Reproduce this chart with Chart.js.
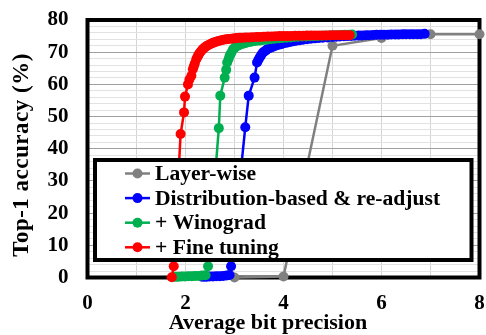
<!DOCTYPE html>
<html>
<head>
<meta charset="utf-8">
<script src="https://cdn.jsdelivr.net/npm/chart.js@4"></script>
<style>
    body { margin: 0; background: #fff; }
</style>
</head>
<body>
<canvas id="accuracy-chart" width="486" height="335"></canvas>
<script>
    // values
    const seriesLabels = ["Layer-wise", "Distribution-based & re-adjust", "+ Winograd", "+ Fine tuning"];
    const seriesColors = ["#808080", "#0000ff", "#00b050", "#ff0000"];

    const layerBits = [3, 4, 5, 6, 7, 8];
    const layerAcc = [0, 0.3, 72, 74.4, 75.6, 75.6];

    const distBits = [2.35, 2.42, 2.49, 2.56, 2.63, 2.70, 2.77, 2.84, 2.90, 2.93,
        3.22, 3.29, 3.41, 3.46, 3.49, 3.52, 3.55, 3.58, 3.61, 3.64,
        3.67, 3.71, 3.75, 3.80, 3.85, 3.90, 3.95, 3.99, 4.05, 4.10,
        4.15, 4.20, 4.26, 4.33, 4.40, 4.48, 4.56, 4.64, 4.72, 4.80,
        4.90, 5.00, 5.08, 5.15, 5.23, 5.30, 5.38, 5.45, 5.53, 5.60,
        5.68, 5.75, 5.83, 5.90, 5.98, 6.05, 6.13, 6.20, 6.28, 6.35,
        6.43, 6.50, 6.58, 6.65, 6.73, 6.80, 6.88];
    const distAcc = [0.2, 0.2, 0.3, 0.3, 0.4, 0.4, 0.5, 0.6, 0.8, 3.5,
        46.7, 56.5, 62.1, 66.8, 67.7, 68.5, 69.2, 69.9, 70.2, 70.5,
        70.9, 71.2, 71.5, 71.8, 72.1, 72.3, 72.5, 72.7, 72.9, 73.1,
        73.25, 73.4, 73.55, 73.7, 73.85, 74.0, 74.15, 74.3, 74.4, 74.5,
        74.6, 74.7, 74.8, 74.9, 74.95, 75.0, 75.05, 75.1, 75.15, 75.2,
        75.25, 75.3, 75.35, 75.4, 75.4, 75.4, 75.45, 75.5, 75.5, 75.5,
        75.55, 75.6, 75.6, 75.6, 75.6, 75.6, 75.7];

    const winoBits = [1.78, 1.85, 1.92, 1.99, 2.06, 2.13, 2.20, 2.27, 2.34, 2.41, 2.46,
        2.68, 2.71, 2.80, 2.83, 2.85, 2.88, 2.90, 2.92, 2.94, 2.97,
        3.00, 3.02, 3.05, 3.08, 3.12, 3.17, 3.21, 3.26, 3.31, 3.36,
        3.43, 3.51, 3.58, 3.66, 3.74, 3.82, 3.90, 3.98, 4.06, 4.14,
        4.22, 4.30, 4.38, 4.46, 4.54, 4.62, 4.70, 4.78, 4.86, 4.94,
        5.02, 5.10, 5.18, 5.25, 5.33, 5.40];
    const winoAcc = [0.2, 0.2, 0.3, 0.3, 0.4, 0.4, 0.5, 0.5, 0.6, 0.7, 3.5,
        46.4, 56.5, 62.1, 64.5, 66.8, 67.9, 68.8, 69.4, 70.0, 70.9,
        71.3, 71.6, 71.9, 72.1, 72.4, 72.6, 72.8, 73.0, 73.15, 73.3,
        73.45, 73.6, 73.75, 73.9, 74.05, 74.2, 74.3, 74.4, 74.5, 74.6,
        74.7, 74.8, 74.85, 74.9, 74.95, 75.0, 75.05, 75.1, 75.15, 75.2,
        75.25, 75.3, 75.35, 75.4, 75.45, 75.5];

    const tuneBits = [1.72, 1.76, 1.90, 1.97, 1.99, 2.05, 2.08, 2.12,
        2.15, 2.17, 2.19, 2.22, 2.24, 2.26, 2.28, 2.30, 2.33, 2.35,
        2.38, 2.41, 2.44, 2.48, 2.52, 2.56, 2.60, 2.64, 2.68, 2.73,
        2.78, 2.83, 2.88, 2.94, 3.00, 3.05, 3.11, 3.17, 3.23, 3.30,
        3.37, 3.45, 3.52, 3.60, 3.68, 3.76, 3.84, 3.92, 4.00, 4.08,
        4.16, 4.24, 4.32, 4.40, 4.48, 4.56, 4.64, 4.72, 4.80, 4.88,
        4.96, 5.04, 5.12, 5.20, 5.28, 5.35];
    const tuneAcc = [0.1, 3.5, 44.6, 51.3, 56.2, 60.0, 61.5, 62.7,
        64.7, 65.6, 66.5, 67.8, 68.4, 69.0, 69.5, 70.0, 70.5, 70.9,
        71.3, 71.7, 72.0, 72.3, 72.6, 72.9, 73.1, 73.3, 73.5, 73.7,
        73.85, 74.0, 74.1, 74.2, 74.3, 74.4, 74.45, 74.5, 74.55, 74.6,
        74.65, 74.7, 74.75, 74.8, 74.85, 74.9, 74.95, 75.0, 75.0, 75.0,
        75.05, 75.1, 75.1, 75.1, 75.15, 75.2, 75.2, 75.2, 75.2, 75.2,
        75.25, 75.3, 75.3, 75.3, 75.3, 75.3];

    const xTickLabels = ["0", "2", "4", "6", "8"];
    const yTickLabels = ["0", "10", "20", "30", "40", "50", "60", "70", "80"];

    const serif = '"Liberation Serif", "Times New Roman", serif';

    function toPoints(xs, ys) {
        return xs.map(function (x, i) { return { x: x, y: ys[i] }; });
    }

    function MakeDataset(i, xs, ys, order) {
        return {
            label: seriesLabels[i],
            data: toPoints(xs, ys),
            showLine: true,
            borderColor: seriesColors[i],
            backgroundColor: seriesColors[i],
            borderWidth: 2.5,
            pointRadius: 5,
            pointBorderWidth: 0,
            clip: false,
            order: order,
        };
    }

    // plot frame, legend box and axis titles
    let decorations = {
        id: 'decorations',
        beforeDatasetsDraw(chart) {
            const ctx = chart.ctx, a = chart.chartArea;
            ctx.save();
            ctx.strokeStyle = '#000';
            ctx.lineWidth = 4;
            ctx.strokeRect(a.left, a.top, a.right - a.left, a.bottom - a.top);
            ctx.restore();
        },
        afterDatasetsDraw(chart) {
            const ctx = chart.ctx, a = chart.chartArea;
            const left = a.left + 7.5, top = a.top + 140;
            const right = a.right - 8, bottom = a.bottom - 17.5;
            ctx.save();
            ctx.fillStyle = '#fff';
            ctx.fillRect(left, top, right - left, bottom - top);
            ctx.strokeStyle = '#000';
            ctx.lineWidth = 4;
            ctx.strokeRect(left, top, right - left, bottom - top);

            ctx.font = 'bold 21.6px ' + serif;
            ctx.textBaseline = 'middle';
            ctx.textAlign = 'left';
            seriesLabels.forEach(function (label, i) {
                const y = top + 13.5 + i * 24.6;
                ctx.strokeStyle = seriesColors[i];
                ctx.fillStyle = seriesColors[i];
                ctx.lineWidth = 2.5;
                ctx.beginPath();
                ctx.moveTo(left + 30, y);
                ctx.lineTo(left + 55, y);
                ctx.stroke();
                ctx.beginPath();
                ctx.arc(left + 42.5, y, 5, 0, Math.PI * 2);
                ctx.fill();
                ctx.fillStyle = '#000';
                ctx.fillText(label, left + 60, y + 1);
            });

            ctx.fillStyle = '#000';
            ctx.font = 'bold 22px ' + serif;
            ctx.textAlign = 'center';
            ctx.fillText('Average bit precision', 268, 323);

            ctx.translate(22, 155);
            ctx.rotate(-Math.PI / 2);
            ctx.font = 'bold 23px ' + serif;
            ctx.letterSpacing = '0.5px';
            ctx.fillText('Top-1 accuracy (%)', 0, 0);
            ctx.restore();
        }
    };

    function noEdgePadding(scale) {
        scale.paddingLeft = 0;
        scale.paddingRight = 0;
        scale.paddingTop = 0;
        scale.paddingBottom = 0;
    }

    function GenerateChart() {
        new Chart(document.getElementById("accuracy-chart"), {
            type: 'scatter',
            data: {
                datasets: [
                    MakeDataset(0, layerBits, layerAcc, 3),
                    MakeDataset(1, distBits, distAcc, 2),
                    MakeDataset(2, winoBits, winoAcc, 1),
                    MakeDataset(3, tuneBits, tuneAcc, 0),
                ]
            },
            options: {
                responsive: false,
                animation: false,
                events: [],
                layout: { padding: { top: 20, right: 6.5, left: 0, bottom: 0 } },
                plugins: {
                    legend: { display: false },
                    tooltip: { enabled: false },
                },
                scales: {
                    x: {
                        type: 'linear',
                        min: 0,
                        max: 8,
                        border: { display: false },
                        grid: { color: '#d4d4d4', lineWidth: 1, drawTicks: false },
                        ticks: {
                            stepSize: 1,
                            autoSkip: false,
                            maxRotation: 0,
                            padding: 13,
                            color: '#000',
                            font: { family: serif, size: 21, weight: 'bold' },
                            callback: function (v) {
                                return v % 2 === 0 ? xTickLabels[v / 2] : '';
                            }
                        },
                        afterFit: function (scale) {
                            scale.height = 57.5;
                            noEdgePadding(scale);
                        }
                    },
                    y: {
                        min: 0,
                        max: 80,
                        border: { display: false },
                        grid: {
                            drawTicks: false,
                            lineWidth: 1,
                            color: function (c) {
                                return c.tick && c.tick.value % 10 === 0 ? '#a0a0a0' : '#e2e2e2';
                            }
                        },
                        ticks: {
                            stepSize: 2,
                            autoSkip: false,
                            padding: 19,
                            color: '#000',
                            font: { family: serif, size: 21, weight: 'bold' },
                            callback: function (v) {
                                return v % 10 === 0 ? yTickLabels[v / 10] : '';
                            }
                        },
                        afterFit: function (scale) {
                            scale.width = 87.5;
                            noEdgePadding(scale);
                        }
                    }
                }
            },
            plugins: [decorations]
        });
    }

    window.onload = GenerateChart;
</script>
</body>
</html>
